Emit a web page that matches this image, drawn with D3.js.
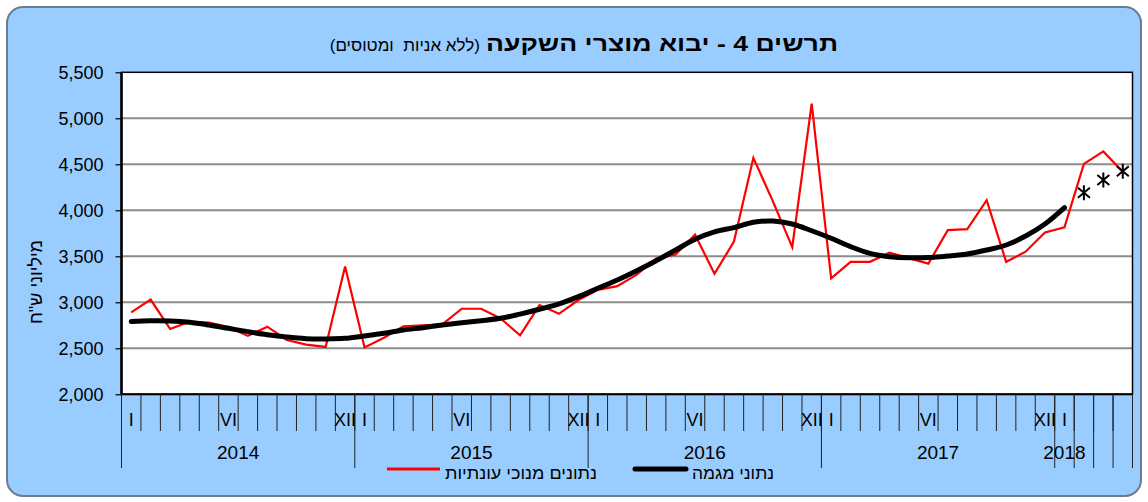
<!DOCTYPE html>
<html><head><meta charset="utf-8">
<script src="https://cdn.jsdelivr.net/npm/d3@7"></script>
<style>
html,body{margin:0;padding:0;background:#fff;}
svg{display:block;}
text{font-family:Arial,"Liberation Sans",sans-serif;fill:#000;}
</style>
</head><body>
<svg id="chart" width="1148" height="502"></svg>
<script>
// ---------- data ----------
const years = ["2014","2015","2016","2017","2018"];
const monthNumerals = ["I","II","III","IV","V","VI","VII","VIII","IX","X","XI","XII"];
const monthsShownIn2018 = 4;
const shownMonthLabels = ["I","VI","XII"];
const yTicks = [2000,2500,3000,3500,4000,4500,5000,5500];

// seasonally adjusted (red), Jan 2014 .. Apr 2018
const seasonallyAdjusted = [
  2890,3030,2710,2790,2780,2730,2635,2735,2590,2540,2515,3390,
  2510,2615,2740,2750,2760,2930,2930,2825,2640,2970,2875,3025,
  3135,3175,3300,3475,3520,3735,3310,3660,4570,4100,3600,5160,
  3260,3440,3440,3540,3480,3420,3785,3795,4110,3440,3550,3760,
  3815,4505,4640,4420
];
// trend (black), Jan 2014 .. Jan 2018
const trend = [
  2790,2800,2798,2783,2753,2717,2681,2648,2622,2605,2602,2608,
  2634,2663,2699,2724,2753,2778,2800,2826,2872,2924,2982,3061,
  3152,3242,3343,3452,3568,3685,3765,3812,3870,3884,3851,3778,
  3696,3605,3532,3496,3485,3487,3503,3525,3568,3623,3720,3851,
  4029
];
// asterisk points (trend estimates), Feb..Apr 2018
const forecastCategories = ["II-2018","III-2018","IV-2018"];
const forecast = [4190,4330,4425];

const titleBold = "תרשים 4 - יבוא מוצרי השקעה";
const titleRegular = "(ללא אניות  ומטוסים)";
const yAxisTitle = "מיליוני ש\"ח";
const legendRed = "נתונים מנוכי עונתיות";
const legendBlack = "נתוני מגמה";

// ---------- build ----------
const categories = years.flatMap(yr =>
  monthNumerals.slice(0, yr === "2018" ? monthsShownIn2018 : 12).map(m => m + "-" + yr));

const svg = d3.select("#chart");
const pLeft = 121.5, pRight = 1132.5, pTop = 72.3, pBottom = 394.3;

svg.append("rect").attr("x",7).attr("y",7).attr("width",1134).attr("height",489)
  .attr("rx",16).attr("fill","#99CCFF").attr("stroke","#6c7c8c").attr("stroke-width",2);

const x = d3.scaleBand().domain(categories).range([pLeft,pRight]).padding(0);
const cx = c => x(c) + x.bandwidth()/2;
const y = d3.scaleLinear().domain([2000,5500]).range([pBottom,pTop]);

// plot background
svg.append("rect").attr("x",pLeft).attr("y",pTop).attr("width",pRight-pLeft).attr("height",pBottom-pTop)
  .attr("fill","#fff");

// gridlines
svg.append("g").selectAll("line").data(yTicks.filter(v => v>2000 && v<5500)).join("line")
  .attr("x1",pLeft).attr("x2",pRight).attr("y1",d=>y(d)).attr("y2",d=>y(d))
  .attr("stroke","#8c8c8c").attr("stroke-width",2);

// y axis
const yAxis = svg.append("g").attr("transform",`translate(${pLeft},0)`)
  .call(d3.axisLeft(y).tickValues(yTicks).tickFormat(d3.format(",")).tickSize(6).tickPadding(12));
yAxis.select(".domain").remove();
yAxis.selectAll("line").attr("stroke","#000").attr("stroke-width",1.2);
yAxis.selectAll("text").attr("font-size",18).attr("font-family","Arial, 'Liberation Sans', sans-serif").attr("fill","#000");

// plot frame
svg.append("rect").attr("x",pLeft).attr("y",pTop).attr("width",pRight-pLeft).attr("height",pBottom-pTop)
  .attr("fill","none").attr("stroke","#000").attr("stroke-width",1.5);
svg.append("line").attr("x1",pLeft).attr("x2",pLeft).attr("y1",pTop).attr("y2",pBottom)
  .attr("stroke","#000").attr("stroke-width",2.5);
svg.append("line").attr("x1",pLeft).attr("x2",pRight).attr("y1",pBottom).attr("y2",pBottom)
  .attr("stroke","#000").attr("stroke-width",2);

// x axis: month ticks
const xg = svg.append("g");
const boundaries = categories.map(c => x(c)).concat([pRight]);
xg.selectAll("line.m").data(boundaries).join("line").attr("class","m")
  .attr("x1",d=>d).attr("x2",d=>d).attr("y1",pBottom).attr("y2",431)
  .attr("stroke","#222").attr("stroke-width",1);

// group boundaries (years; each month of 2018 after January is its own empty group)
const groups = [];
years.forEach(yr => {
  const cats = categories.filter(c => c.endsWith(yr));
  if (yr === "2018") {
    cats.forEach((c,i) => groups.push({label: i===0 ? yr : "", cats:[c]}));
  } else groups.push({label: yr, cats});
});
const groupEdges = [pLeft].concat(groups.map(g => x(g.cats[g.cats.length-1]) + x.bandwidth()));
xg.selectAll("line.g").data(groupEdges).join("line").attr("class","g")
  .attr("x1",d=>d).attr("x2",d=>d).attr("y1",pBottom).attr("y2",468)
  .attr("stroke","#222").attr("stroke-width",1);

// month labels
xg.selectAll("text.m").data(categories.filter(c => shownMonthLabels.includes(c.split("-")[0]))).join("text")
  .attr("class","m").attr("x",cx).attr("y",426).attr("text-anchor","middle")
  .attr("font-size",18).text(c => c.split("-")[0]);

// year labels
xg.selectAll("text.y").data(groups.filter(g => g.label)).join("text")
  .attr("class","y")
  .attr("x",g => (x(g.cats[0]) + x(g.cats[g.cats.length-1]) + x.bandwidth())/2)
  .attr("y",459).attr("text-anchor","middle").attr("font-size",19).text(g => g.label);

// red line
svg.append("path").datum(seasonallyAdjusted)
  .attr("d", d3.line().x((d,i)=>cx(categories[i])).y(d=>y(d)))
  .attr("fill","none").attr("stroke","#FF0000").attr("stroke-width",2.2).attr("stroke-linejoin","miter");

// trend line
svg.append("path").datum(trend)
  .attr("d", d3.line().x((d,i)=>cx(categories[i])).y(d=>y(d)).curve(d3.curveCatmullRom.alpha(0.5)))
  .attr("fill","none").attr("stroke","#000").attr("stroke-width",5).attr("stroke-linecap","round");

// asterisks
const star = "M-6,-5L6,5M-6,5L6,-5M0,-7.5L0,7.5";
svg.append("g").selectAll("path").data(forecast).join("path")
  .attr("transform",(d,i)=>`translate(${cx(forecastCategories[i])},${y(d)})`)
  .attr("d",star).attr("fill","none").attr("stroke","#000").attr("stroke-width",2);

// title
svg.append("text").attr("x",838).attr("y",51).attr("text-anchor","end")
  .attr("font-size",22).attr("font-weight","bold")
  .attr("textLength",352).attr("lengthAdjust","spacingAndGlyphs")
  .text(titleBold);
svg.append("text").attr("x",480).attr("y",51).attr("text-anchor","end")
  .attr("font-size",17).style("white-space","pre").text(titleRegular);

// y axis title
svg.append("text").attr("transform","translate(42,282) rotate(-90)").attr("text-anchor","middle")
  .attr("font-size",18).style("white-space","pre").text(yAxisTitle);

// legend
svg.append("line").attr("x1",387).attr("x2",440).attr("y1",469).attr("y2",469)
  .attr("stroke","#FF0000").attr("stroke-width",3);
svg.append("text").attr("x",445).attr("y",479).attr("font-size",17)
  .attr("textLength",152).attr("lengthAdjust","spacingAndGlyphs").text(legendRed);
svg.append("line").attr("x1",635).attr("x2",686).attr("y1",469).attr("y2",469)
  .attr("stroke","#000").attr("stroke-width",5).attr("stroke-linecap","round");
svg.append("text").attr("x",692).attr("y",479).attr("font-size",17)
  .attr("textLength",82).attr("lengthAdjust","spacingAndGlyphs").text(legendBlack);
</script>
</body></html>
